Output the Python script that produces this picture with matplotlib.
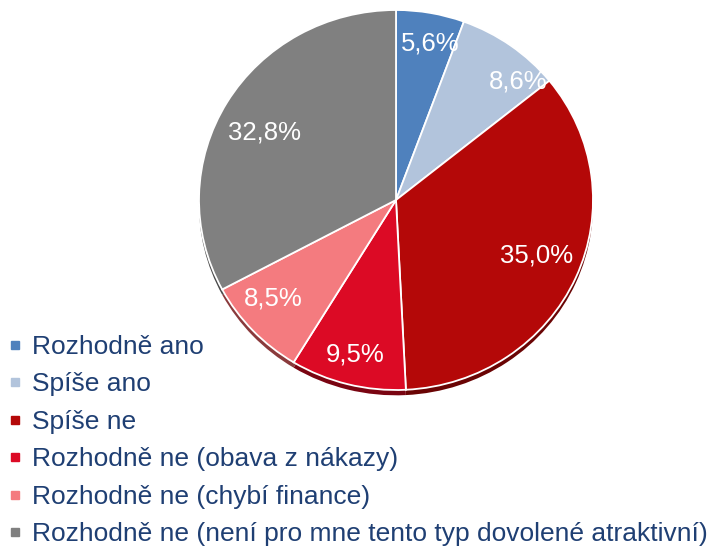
import matplotlib
matplotlib.use("Agg")
import matplotlib.pyplot as plt
from matplotlib.lines import Line2D
import numpy as np

categories = ["Rozhodně ano", "Spíše ano", "Spíše ne",
              "Rozhodně ne (obava z nákazy)", "Rozhodně ne (chybí finance)",
              "Rozhodně ne (není pro mne tento typ dovolené atraktivní)"]
values = [5.6, 8.6, 35.0, 9.5, 8.5, 32.8]
labels = ["5,6%", "8,6%", "35,0%", "9,5%", "8,5%", "32,8%"]
colors = ["#4F81BD", "#B2C4DC", "#B40808", "#DC0A25", "#F47B7F", "#808080"]
shadow_colors = ["#2E4A70", "#6E7C90", "#6A0404", "#7A0512", "#8A3A3C", "#4A4A4A"]
label_dist = [0.84, 0.88, 0.77, 0.84, 0.81, 0.755]
label_ang_off = [-2, -9, 2, 0, -3.5, 3]

plt.rcParams['font.family'] = ['Liberation Sans', 'DejaVu Sans']

fig = plt.figure(figsize=(7.13, 5.5), dpi=100)
W, H = 713, 550
cx, cy, rx, ry = 396, 200, 197, 190
ax = fig.add_axes([(cx - rx) / W, (H - cy - ry) / H, 2 * rx / W, 2 * ry / H])

# shadow / 3D rim
ax.pie(values, colors=shadow_colors, startangle=90, counterclock=False,
       radius=1.0, center=(0, -0.028), wedgeprops=dict(linewidth=0))
wedges, _ = ax.pie(values, colors=colors, startangle=90, counterclock=False,
                   radius=1.0, wedgeprops=dict(edgecolor='white', linewidth=1.3))
ax.set_xlim(-1.0, 1.0)
ax.set_ylim(-1.0, 1.0)
ax.set_aspect('auto')
ax.axis('off')

total = sum(values)
start = 90.0
for v, lab, d, off in zip(values, labels, label_dist, label_ang_off):
    mid = start - v / total * 360 / 2
    a = np.deg2rad(mid + off)
    ax.text(d * np.cos(a), d * np.sin(a), lab, color='white', fontsize=18.5,
            ha='center', va='center')
    start -= v / total * 360

handles = [Line2D([0], [0], marker='s', linestyle='none', markersize=5.5,
                  markerfacecolor=c, markeredgecolor=c) for c in colors]
leg = fig.legend(handles, categories, loc='upper left',
                 bbox_to_anchor=(10 / W, 1 - 335 / H), frameon=False,
                 fontsize=19.0, labelspacing=0.51, handlelength=0.4,
                 handletextpad=0.45, borderpad=0, borderaxespad=0)
for t in leg.get_texts():
    t.set_color('#1F3F73')

fig.savefig("out.png", dpi=100)
